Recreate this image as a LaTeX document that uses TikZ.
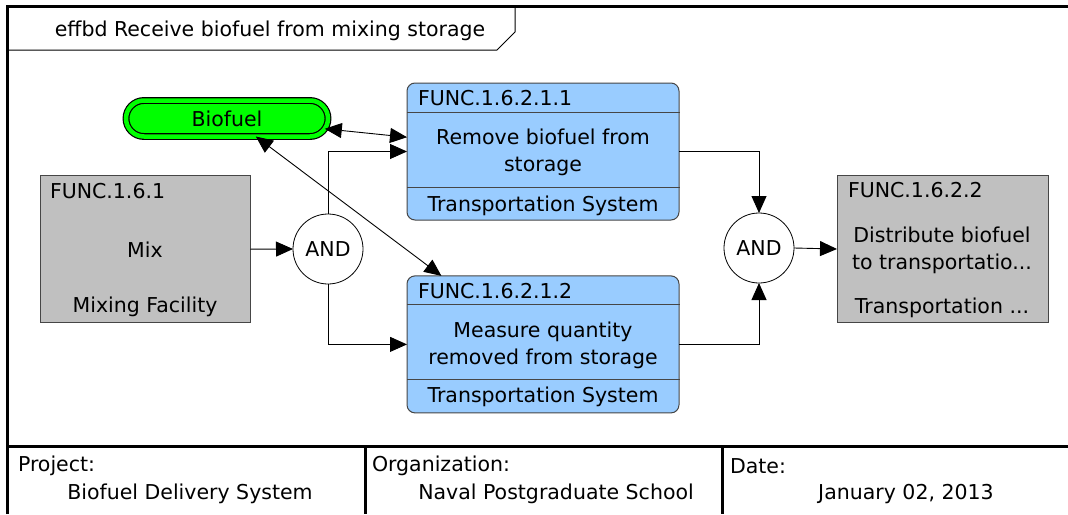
\documentclass[tikz,border=0pt]{standalone}
\usepackage{fontspec}
\setmainfont{DejaVu Sans}
\usetikzlibrary{arrows.meta,shapes.misc}
\definecolor{fnblue}{RGB}{153,204,255}
\definecolor{fngray}{RGB}{192,192,192}
\definecolor{fngreen}{RGB}{0,255,0}
\definecolor{edgegray}{RGB}{70,70,70}
\begin{document}
\begin{tikzpicture}[x=1pt,y=-1pt,
  every node/.style={font=\fontsize{20.5}{27}\selectfont, inner sep=0pt, outer sep=0pt},
  conn/.style={draw=black, line width=0.9pt, -{Triangle[length=17pt,width=15pt]}},
  conntwo/.style={draw=black, line width=0.9pt, {Triangle[length=17pt,width=15pt]}-{Triangle[length=17pt,width=15pt]}},
  bluebox/.style={draw=edgegray, fill=fnblue, rounded corners=8pt, line width=1pt, minimum width=272pt, minimum height=137pt},
  graybox/.style={draw=edgegray, fill=fngray, line width=1pt, minimum width=210pt, minimum height=147pt},
  andgate/.style={circle, draw=black, fill=white, line width=0.8pt, minimum size=70pt},
  pill/.style={rounded rectangle, draw=black, double=fngreen, double distance=4.5pt, fill=fngreen, line width=1.2pt, minimum width=202pt, minimum height=36pt},
  frameline/.style={line width=3.5pt, draw=black},
  sepline/.style={line width=0.9pt, draw=edgegray},
  tabline/.style={line width=1pt, draw=black}
]
\useasboundingbox (0,0) rectangle (1068,514);
\fill[white] (0,0) rectangle (1068,514);

% outer frame
\draw[frameline] (7.5,514) -- (7.5,6.5) -- (1068,6.5);
% title tab
\draw[tabline] (7.5,50) -- (497,50) -- (515,32) -- (515,6.5);
\node (title) at (270,31) {effbd Receive biofuel from mixing storage};

% footer
\draw[frameline] (7.5,446.5) -- (1068,446.5);
\draw[line width=3pt] (365,446.5) -- (365,514);
\draw[line width=3pt] (722,446.5) -- (722,514);
\node[anchor=west] (projl) at (18,466) {Project:};
\node (projv) at (190,494) {Biofuel Delivery System};
\node[anchor=west] (orgl) at (372,466) {Organization:};
\node (orgv) at (556,494) {Naval Postgraduate School};
\node[anchor=west] (datel) at (730,466) {Date:};
\node (datev) at (906,494) {January 02, 2013};

% Mix
\node[graybox] (mix) at (145.3,249.2) {};
\node[anchor=west] (mixid) at (50,191) {FUNC.1.6.1};
\node (mixname) at (145,250) {Mix};
\node (mixres) at (145,307) {Mixing Facility};

% AND gates
\node[andgate] (and1) at (328,249) {AND};
\node[andgate] (and2) at (759,248) {AND};

% Remove biofuel
\node[bluebox] (f1) at (543,151.5) {};
\draw[sepline] (407,112) -- (680,112);
\draw[sepline] (407,187) -- (680,187);
\node[anchor=west] (f1id) at (418,98) {FUNC.1.6.2.1.1};
\node[align=center] (f1name) at (543,152) {Remove biofuel from\\storage};
\node (f1res) at (543,206) {Transportation System};

% Measure quantity
\node[bluebox] (f2) at (543,344.4) {};
\draw[sepline] (407,304) -- (680,304);
\draw[sepline] (407,379) -- (680,379);
\node[anchor=west] (f2id) at (418,291.5) {FUNC.1.6.2.1.2};
\node[align=center] (f2name) at (543,345) {Measure quantity\\removed from storage};
\node (f2res) at (543,397) {Transportation System};

% Distribute
\node[graybox, minimum width=211pt] (f3) at (942.5,249) {};
\node[anchor=west] (f3id) at (848,190) {FUNC.1.6.2.2};
\node[align=center] (f3name) at (942,250) {Distribute biofuel\\to transportatio...};
\node (f3res) at (942,308) {Transportation ...};

% Biofuel item
\node[pill] (bio) at (227,118.5) {Biofuel};

% connectors
\draw[conn] (mix.east) -- (and1.west);
\draw[conn] (and1.north) |- (f1.west);
\draw[conn] (and1.south) |- (f2.west);
\draw[conn] (f1.east) -| (and2.north);
\draw[conn] (f2.east) -| (and2.south);
\draw[conn] (and2.east) -- (f3.west);
\draw[conntwo] (bio.-6) -- (f1.174);
\draw[conntwo] (bio.-32) -- (f2.146);
\end{tikzpicture}
\end{document}
